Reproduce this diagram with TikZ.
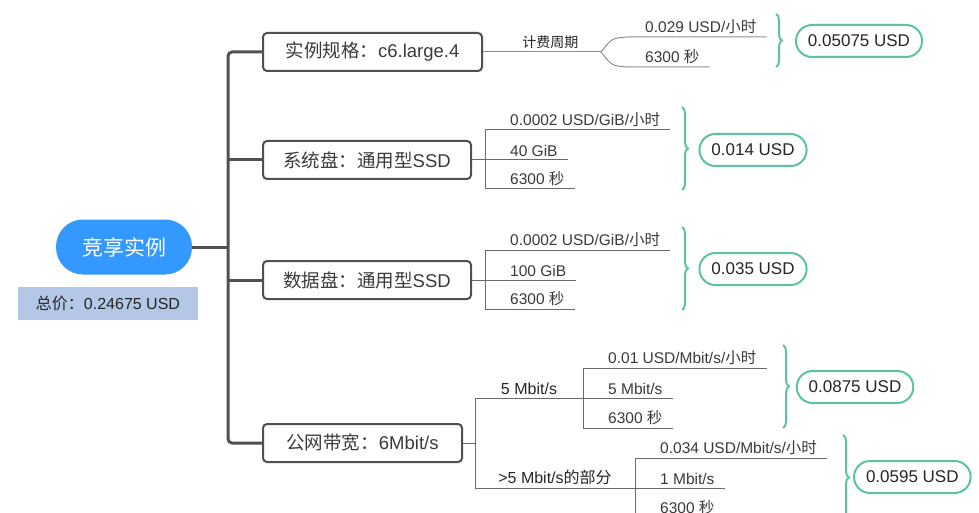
\documentclass[tikz,border=0pt]{standalone}
\usepackage{fontspec}
\setmainfont{Liberation Sans}
\newfontfamily\cjk{Noto Sans CJK SC}
\usetikzlibrary{decorations.pathreplacing}
\definecolor{rootblue}{HTML}{3399FF}
\definecolor{sumblue}{HTML}{B4C7E7}
\definecolor{trunkgray}{HTML}{505050}
\definecolor{leafgray}{HTML}{6A6A6A}
\definecolor{costgreen}{HTML}{5CC39E}
\definecolor{txtgray}{HTML}{3A3A3A}

\begin{document}
\begin{tikzpicture}[x=1pt,y=-1pt,
	root/.style={fill=rootblue,text=white,rounded corners=27pt,minimum width=136pt,minimum height=55pt,font=\fontsize{21}{24}\selectfont},
	total/.style={fill=sumblue,text=black!85,minimum width=180pt,minimum height=33pt,font=\fontsize{16}{18}\selectfont},
	item/.style={draw=trunkgray,line width=2pt,rounded corners=4pt,anchor=west,minimum height=38pt,text=txtgray,font=\fontsize{18.5}{21}\selectfont},
	leaf/.style={anchor=south west,inner xsep=10pt,inner ysep=3pt,text=txtgray,font=\fontsize{15.5}{18}\selectfont},
	cost/.style={draw=costgreen,line width=2pt,rounded corners=16pt,minimum height=32pt,inner xsep=12pt,text=black!85,font=\fontsize{17}{19}\selectfont},
	trunk/.style={draw=trunkgray,line width=3pt},
	twig/.style={draw=leafgray,line width=1pt},
	tag/.style={above,inner sep=3pt,text=black!85,font=\fontsize{16}{18}\selectfont},
	bracegreen/.style={draw=costgreen,line width=2pt,decorate,decoration={brace,amplitude=6pt}}]
	\useasboundingbox (0,0) rectangle (979,513);
	\clip (0,0) rectangle (979,513);

	% root and items
	\node[root] (inst) at (124,247) {\cjk 竞享实例};
	\node[total] (sum) at (108,303.5) {{\cjk 总价：}0.24675 USD};
	\node[item,minimum width=219pt] (spec) at (262,52) {{\cjk 实例规格：}c6.large.4};
	\node[item,minimum width=208pt] (sys) at (262,160) {{\cjk 系统盘：通用型}SSD};
	\node[item,minimum width=208pt] (data) at (262,280) {{\cjk 数据盘：通用型}SSD};
	\node[item,minimum width=199pt] (bw) at (262,443) {{\cjk 公网带宽：}6Mbit/s};

	\coordinate (tk) at (228,0);
	\draw[trunk] (inst.east) -- (inst.east -| tk);
	\draw[trunk,rounded corners=4pt] (spec.west) -- (spec.west -| tk) -- (bw.west -| tk) -- (bw.west);
	\draw[trunk] (sys.west -| tk) -- (sys.west);
	\draw[trunk] (data.west -| tk) -- (data.west);

	% instance spec
	\coordinate (f1) at (601,52);
	\node[leaf] (l1a) at (635,37) {0.029 USD/{\cjk 小时}};
	\node[leaf] (l1b) at (635,67) {6300 {\cjk 秒}};
	\draw[twig,draw=leafgray!75] (spec.east) -- node[tag,pos=0.57,font=\cjk\fontsize{14}{16}\selectfont] {计费周期} (f1);
	\draw[twig,draw=leafgray!75] (f1) .. controls (612,38) .. (628,37) -- (l1a.south east);
	\draw[twig,draw=leafgray!75] (f1) .. controls (612,66) .. (628,67) -- (l1b.south east);
	\draw[bracegreen] (776,14) -- (776,67);
	\node[cost] (c1) at (859,41) {0.05075 USD};

	% system disk
	\coordinate (f2) at (485,160);
	\node[leaf] (l2a) at (500,130) {0.0002 USD/GiB/{\cjk 小时}};
	\node[leaf] (l2b) at (500,160) {40 GiB};
	\node[leaf] (l2c) at (500,189) {6300 {\cjk 秒}};
	\draw[twig] (sys.east) -- (f2);
	\draw[twig] (l2a.south east) -- (l2a.south east -| f2) -- (l2c.south east -| f2) -- (l2c.south east);
	\draw[twig] (f2) -- (l2b.south east);
	\draw[bracegreen] (682,107) -- (682,190);
	\node[cost] (c2) at (753,150) {0.014 USD};

	% data disk
	\coordinate (f3) at (485,280);
	\node[leaf] (l3a) at (500,250) {0.0002 USD/GiB/{\cjk 小时}};
	\node[leaf] (l3b) at (500,280) {100 GiB};
	\node[leaf] (l3c) at (500,309) {6300 {\cjk 秒}};
	\draw[twig] (data.east) -- (f3);
	\draw[twig] (l3a.south east) -- (l3a.south east -| f3) -- (l3c.south east -| f3) -- (l3c.south east);
	\draw[twig] (f3) -- (l3b.south east);
	\draw[bracegreen] (682,227) -- (682,310);
	\node[cost] (c3) at (753,269) {0.035 USD};

	% bandwidth
	\coordinate (f4) at (475,443);
	\coordinate (g4) at (583,398);
	\coordinate (g5) at (635,488);
	\draw[twig] (bw.east) -- (f4);
	\draw[twig] (g4) -- node[tag] {5 Mbit/s} (g4 -| f4) -- (g5 -| f4) -- node[tag] {>5 Mbit/s{\cjk 的部分}} (g5);

	\node[leaf] (l4a) at (598,368) {0.01 USD/Mbit/s/{\cjk 小时}};
	\node[leaf] (l4b) at (598,398) {5 Mbit/s};
	\node[leaf] (l4c) at (598,428) {6300 {\cjk 秒}};
	\draw[twig] (l4a.south east) -- (l4a.south east -| g4) -- (l4c.south east -| g4) -- (l4c.south east);
	\draw[twig] (g4) -- (l4b.south east);
	\draw[bracegreen] (783,345) -- (783,428);
	\node[cost] (c4) at (855,387) {0.0875 USD};

	\node[leaf] (l5a) at (650,458) {0.034 USD/Mbit/s/{\cjk 小时}};
	\node[leaf] (l5b) at (650,488) {1 Mbit/s};
	\node[leaf] (l5c) at (650,518) {6300 {\cjk 秒}};
	\draw[twig] (l5a.south east) -- (l5a.south east -| g5) -- (l5c.south east -| g5) -- (l5c.south east);
	\draw[twig] (g5) -- (l5b.south east);
	\draw[bracegreen] (843,435) -- (843,520);
	\node[cost,anchor=west] (c5) at (853,477) {0.0595 USD};
\end{tikzpicture}
\end{document}
